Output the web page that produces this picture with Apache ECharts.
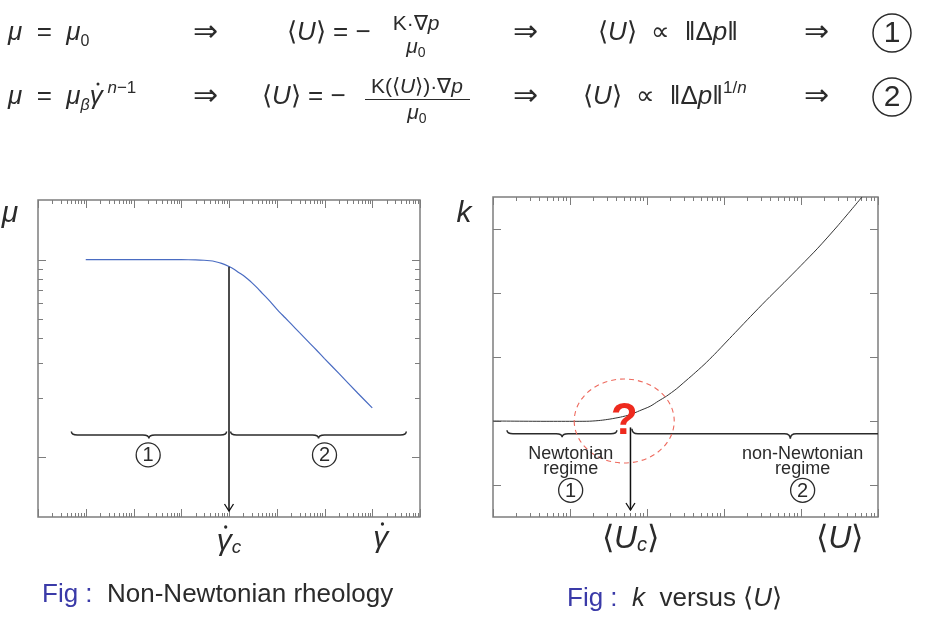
<!DOCTYPE html>
<html><head><meta charset="utf-8">
<script src="https://cdn.jsdelivr.net/npm/echarts@6/dist/echarts.min.js"></script>
<style>html,body{margin:0;padding:0;background:#fff}#c{width:930px;height:639px}</style>
</head><body><div id="c"></div>
<script>
// ---------- data ----------
// Left: viscosity mu versus shear rate (log-log)
const shearRate = [0.001, 0.01, 0.05, 0.1, 0.2, 0.3, 0.4, 0.5, 0.7, 1, 1.3, 1.6, 2, 2.5, 3, 4, 5, 7, 10, 15, 20, 30, 50, 70, 100, 200, 500, 1000];
const viscosity = [10, 10, 10, 9.99, 9.96, 9.92, 9.86, 9.78, 9.57, 9.22, 8.9, 8.6, 8.3, 7.95, 7.65, 7.15, 6.75, 6.2, 5.62, 5.08, 4.73, 4.27, 3.76, 3.46, 3.16, 2.66, 2.11, 1.78];
// Right: k versus <U> (semi-log)
const meanVelocity = [1, 5, 12, 18, 25, 33, 45, 61, 80, 110, 140, 180, 240, 300, 400, 550, 750, 1100, 1500, 2200, 3500, 6000, 10000, 16500, 30000, 62000];
const kValues = [1.0, 0.995, 0.995, 0.997, 1.01, 1.03, 1.06, 1.10, 1.16, 1.23, 1.31, 1.39, 1.50, 1.60, 1.73, 1.88, 2.04, 2.25, 2.42, 2.63, 2.88, 3.16, 3.43, 3.70, 4.05, 4.5];
const criticalShear = 1;      // gamma_dot_c
const criticalVelocity = 61;  // <U_c>
// axis ranges
const leftX = [1e-4, 1e4], leftY = [0.5, 20];
const rightX = [1, 1e5], rightY = [-0.5, 4.5];
const rightYTicks = [0, 1, 2, 3, 4];

const F = "'Liberation Sans', Arial, sans-serif";
const INK = '#2b2b2b';
const AXC = '#7d7d7d';

function logTicks(lo, hi) {
  const maj = [], min = [];
  for (let e = Math.round(Math.log10(lo)); e <= Math.round(Math.log10(hi)); e++) {
    const b = Math.pow(10, e);
    if (b >= lo * 0.999 && b <= hi * 1.001) maj.push(b);
    for (let m = 2; m <= 9; m++) { const v = m * b; if (v > lo * 1.001 && v < hi * 0.999) min.push(v); }
  }
  return { maj, min };
}

function tickRenderer(xr, yr, xt, yt) {
  return function (params, api) {
    const ch = [];
    const st = { stroke: AXC, lineWidth: 1 };
    const p00 = api.coord([xr[0], yr[0]]), p11 = api.coord([xr[1], yr[1]]);
    const L = p00[0], R = p11[0], B = p00[1], T = p11[1];
    function vt(x, len) {
      const px = Math.round(api.coord([x, yr[0]])[0]) + 0.5;
      ch.push({ type: 'line', shape: { x1: px, y1: B, x2: px, y2: B - len }, style: st });
      ch.push({ type: 'line', shape: { x1: px, y1: T, x2: px, y2: T + len }, style: st });
    }
    function ht(y, len) {
      const py = Math.round(api.coord([xr[0], y])[1]) + 0.5;
      ch.push({ type: 'line', shape: { x1: L, y1: py, x2: L + len, y2: py }, style: st });
      ch.push({ type: 'line', shape: { x1: R, y1: py, x2: R - len, y2: py }, style: st });
    }
    xt.maj.forEach(v => vt(v, 8));
    xt.min.forEach(v => vt(v, 4));
    yt.maj.forEach(v => ht(v, 8));
    (yt.min || []).forEach(v => ht(v, 5));
    return { type: 'group', children: ch };
  };
}

function bracePath(x1, x2, xm, y, h, q, xClip) {
  let d = `M${x1},${y - h} Q${x1},${y} ${x1 + q},${y} L${xm - q},${y} Q${xm},${y} ${xm},${y + h} Q${xm},${y} ${xm + q},${y}`;
  if (xClip !== undefined && x2 > xClip) d += ` L${xClip},${y}`;
  else d += ` L${x2 - q},${y} Q${x2},${y} ${x2},${y - h}`;
  return d;
}
function arrowEls(px, yTop, yTip) {
  return [
    { type: 'line', shape: { x1: px, y1: yTop, x2: px, y2: yTip }, style: { stroke: '#111', lineWidth: 1.5 } },
    { type: 'polyline', shape: { points: [[px - 4.5, yTip - 7], [px, yTip], [px + 4.5, yTip - 7]] }, style: { stroke: '#111', lineWidth: 1.3, fill: 'none' } }
  ];
}
function circledEls(cx, cy, r, t, fs) {
  return [
    { type: 'circle', shape: { cx, cy, r }, style: { stroke: INK, lineWidth: 1.3, fill: 'none' } },
    { type: 'text', style: { x: cx, y: cy + 1, text: t, font: `${fs}px ${F}`, fill: INK, align: 'center', verticalAlign: 'middle', textAlign: 'center', textVerticalAlign: 'middle' } }
  ];
}
function txt(x, y, text, fs, extra) {
  return { type: 'text', style: Object.assign({ x, y, text, font: `${fs}px ${F}`, fill: INK, align: 'center', verticalAlign: 'middle', textAlign: 'center', textVerticalAlign: 'middle' }, extra || {}) };
}
const mathRich = (fs) => ({
  m: { fontStyle: 'italic', fontSize: fs, fontFamily: F, fill: INK, color: INK },
  s: { fontStyle: 'italic', fontSize: Math.round(fs * 0.62), fontFamily: F, fill: INK, color: INK, verticalAlign: 'bottom' },
  n: { fontSize: fs, fontFamily: F, fill: INK, color: INK }
});
// gamma with a dot above (dot drawn as a small disc)
function gammaDot(x, y, fs, sub) {
  const els = [];
  els.push({ type: 'text', style: { x, y, text: sub ? '{m|γ}{s|' + sub + '}' : '{m|γ}', rich: mathRich(fs), align: 'center', verticalAlign: 'middle', textAlign: 'center', textVerticalAlign: 'middle' } });
  const gx = sub ? x - fs * 0.17 : x;
  els.push({ type: 'circle', shape: { cx: gx + fs * 0.06, cy: y - fs * 0.5, r: fs * 0.055 }, style: { fill: INK } });
  return els;
}

// annotation anchors (data coordinates)
const leftBraces = [[5e-4, 0.89, 0.021], [1.08, 5160, 75]];
const leftBraceY = 1.3;
const leftCircled = [[0.0203, 1.03, '1'], [100, 1.03, '2']];
const rightBraces = [[1.52, 40.6, 7.9], [63.7, 8.2e5, 7260]];
const rightBraceY = 0.80;

function renderLeftAnno(params, api) {
  const ch = [];
  const B = api.coord([leftX[0], leftY[0]])[1];
  leftBraces.forEach(b => {
    const y = api.coord([b[0], leftBraceY])[1];
    ch.push({ type: 'path', shape: { pathData: bracePath(api.coord([b[0], 1])[0], api.coord([b[1], 1])[0], api.coord([b[2], 1])[0], y, 3.5, 6) }, style: { stroke: INK, lineWidth: 1.5, fill: 'none' } });
  });
  leftCircled.forEach(c => { const p = api.coord([c[0], c[1]]); circledEls(p[0], p[1], 12, c[2], 20).forEach(e => ch.push(e)); });
  const a = api.coord([criticalShear, 9.2]);
  arrowEls(a[0], a[1], B - 6).forEach(e => ch.push(e));
  gammaDot(a[0], B + 25, 30, 'c').forEach(e => ch.push(e));
  const g = api.coord([1500, 1]);
  gammaDot(g[0], B + 22, 30).forEach(e => ch.push(e));
  return { type: 'group', children: ch };
}

function renderRightAnno(params, api) {
  const ch = [];
  const B = api.coord([rightX[0], rightY[0]])[1];
  const Rpx = api.coord([rightX[1], rightY[0]])[0];
  rightBraces.forEach((b, i) => {
    const y = api.coord([1, rightBraceY])[1];
    ch.push({ type: 'path', shape: { pathData: bracePath(api.coord([b[0], 1])[0], api.coord([b[1], 1])[0], api.coord([b[2], 1])[0], y, i ? 5 : 3.5, 6, Rpx) }, style: { stroke: INK, lineWidth: 1.5, fill: 'none' } });
  });
  const c = api.coord([50.6, 1.0]);
  const rx = 50, ry = 42;
  ch.push({ type: 'path', shape: { pathData: `M${c[0] - rx},${c[1]} A${rx},${ry} 0 1 0 ${c[0] + rx},${c[1]} A${rx},${ry} 0 1 0 ${c[0] - rx},${c[1]} Z` }, style: { stroke: '#ee6a5e', lineWidth: 1.1, fill: 'none', lineDash: [5, 4] } });
  ch.push(txt(c[0], c[1] + 1, '?', 44, { fill: '#ee2a1e', font: `bold 44px ${F}` }));
  const a = api.coord([criticalVelocity, 0.9]);
  arrowEls(a[0], a[1], B - 7).forEach(e => ch.push(e));
  const nl = api.coord([10.2, 0.49]), nl2 = api.coord([10.2, 0.245]), nl3 = api.coord([10.2, -0.083]);
  ch.push(txt(nl[0], nl[1], 'Newtonian', 18));
  ch.push(txt(nl2[0], nl2[1], 'regime', 18));
  circledEls(nl3[0], nl3[1], 12, '1', 20).forEach(e => ch.push(e));
  const rl = api.coord([10500, 0.49]), rl2 = api.coord([10500, 0.245]), rl3 = api.coord([10500, -0.083]);
  ch.push(txt(rl[0], rl[1], 'non-Newtonian', 18));
  ch.push(txt(rl2[0], rl2[1], 'regime', 18));
  circledEls(rl3[0], rl3[1], 12, '2', 20).forEach(e => ch.push(e));
  ch.push({ type: 'text', style: { x: a[0], y: B + 22, text: '{n|⟨}{m|U}{s|c}{n|⟩}', rich: mathRich(32), align: 'center', verticalAlign: 'middle', textAlign: 'center', textVerticalAlign: 'middle' } });
  const u = api.coord([32000, 1]);
  ch.push({ type: 'text', style: { x: u[0], y: B + 22, text: '{n|⟨}{m|U}{n|⟩}', rich: mathRich(32), align: 'center', verticalAlign: 'middle', textAlign: 'center', textVerticalAlign: 'middle' } });
  return { type: 'group', children: ch };
}

// ---------- equations (graphic text) ----------
const EQ = 26, FR = 21;
const eqRich = {
  m: { fontStyle: 'italic', fontSize: EQ, fontFamily: F, fill: INK, color: INK, lineHeight: 34 },
  n: { fontSize: EQ, fontFamily: F, fill: INK, color: INK, lineHeight: 34 },
  a: { fontSize: 30, fontFamily: F, fill: INK, color: INK, lineHeight: 34 },
  s: { fontSize: 16, fontFamily: F, fill: INK, color: INK, verticalAlign: 'bottom', lineHeight: 34 },
  si: { fontStyle: 'italic', fontSize: 16, fontFamily: F, fill: INK, color: INK, verticalAlign: 'bottom', lineHeight: 34 },
  u: { fontSize: 17, fontFamily: F, fill: INK, color: INK, verticalAlign: 'top', lineHeight: 34 },
  ui: { fontStyle: 'italic', fontSize: 17, fontFamily: F, fill: INK, color: INK, verticalAlign: 'top', lineHeight: 34 },
  f: { fontSize: FR, fontFamily: F, fill: INK, color: INK, lineHeight: 26 },
  fi: { fontStyle: 'italic', fontSize: FR, fontFamily: F, fill: INK, color: INK, lineHeight: 26 },
  fs: { fontSize: 14, fontFamily: F, fill: INK, color: INK, verticalAlign: 'bottom', lineHeight: 26 }
};
function gText(x, y, text, align) {
  return { type: 'text', x, y, silent: true, style: { text, rich: eqRich, fill: INK, font: `${EQ}px ${F}`, align: align || 'left', verticalAlign: 'middle', textAlign: align || 'left', textVerticalAlign: 'middle' } };
}
function gCircled(cx, cy, t) {
  return [
    { type: 'circle', shape: { cx, cy, r: 19 }, style: { stroke: INK, lineWidth: 1.5, fill: 'none' } },
    { type: 'text', x: cx, y: cy + 1, style: { text: t, font: `30px ${F}`, fill: INK, align: 'center', verticalAlign: 'middle', textAlign: 'center', textVerticalAlign: 'middle' } }
  ];
}
const graphics = [
  // row 1
  gText(8, 33, '{m|μ}{n|  =  }{m|μ}{s|0}'),
  gText(205, 33, '{a|⇒}', 'center'),
  gText(287, 33, '{n|⟨}{m|U}{n|⟩ = − }'),
  gText(416, 24, '{f|K·∇}{fi|p}', 'center'),
  gText(416, 47, '{fi|μ}{fs|0}', 'center'),
  gText(525, 33, '{a|⇒}', 'center'),
  gText(598, 33, '{n|⟨}{m|U}{n|⟩  ∝  ‖Δ}{m|p}{n|‖}'),
  gText(816, 33, '{a|⇒}', 'center'),
  ...gCircled(892, 33, '1'),
  // row 2
  gText(8, 97, '{m|μ}{n|  =  }{m|μ}{si|β}{m|γ}{ui| n}{u|−1}'),
  { type: 'circle', shape: { cx: 98, cy: 84, r: 1.5 }, style: { fill: INK } },
  gText(205, 97, '{a|⇒}', 'center'),
  gText(262, 97, '{n|⟨}{m|U}{n|⟩ = − }'),
  gText(417, 87, '{f|K(⟨}{fi|U}{f|⟩)·∇}{fi|p}', 'center'),
  { type: 'line', shape: { x1: 365, y1: 99.5, x2: 470, y2: 99.5 }, style: { stroke: INK, lineWidth: 1 } },
  gText(417, 113, '{fi|μ}{fs|0}', 'center'),
  gText(525, 97, '{a|⇒}', 'center'),
  gText(583, 97, '{n|⟨}{m|U}{n|⟩  ∝  ‖Δ}{m|p}{n|‖}{u|1/}{ui|n}'),
  gText(816, 97, '{a|⇒}', 'center'),
  ...gCircled(892, 97, '2'),
  // axis name labels
  { type: 'text', x: 10, y: 214, style: { text: 'μ', font: `italic 30px ${F}`, fill: INK, align: 'center', verticalAlign: 'middle', textAlign: 'center', textVerticalAlign: 'middle' } },
  { type: 'text', x: 464, y: 214, style: { text: 'k', font: `italic 30px ${F}`, fill: INK, align: 'center', verticalAlign: 'middle', textAlign: 'center', textVerticalAlign: 'middle' } },
  // captions
  { type: 'text', x: 42, y: 595, style: { text: '{b|Fig : }{t| Non-Newtonian rheology}', rich: { b: { fontSize: 26, fontFamily: F, fill: '#3a3aa8', color: '#3a3aa8' }, t: { fontSize: 26, fontFamily: F, fill: INK, color: INK } }, align: 'left', verticalAlign: 'middle', textAlign: 'left', textVerticalAlign: 'middle' } },
  { type: 'text', x: 567, y: 599, style: { text: '{b|Fig : }{i| k }{t| versus ⟨}{i|U}{t|⟩}', rich: { b: { fontSize: 26, fontFamily: F, fill: '#3a3aa8', color: '#3a3aa8' }, t: { fontSize: 26, fontFamily: F, fill: INK, color: INK }, i: { fontSize: 26, fontStyle: 'italic', fontFamily: F, fill: INK, color: INK } }, align: 'left', verticalAlign: 'middle', textAlign: 'left', textVerticalAlign: 'middle' } }
];

const hiddenAxis = { axisLine: { show: false }, axisTick: { show: false }, axisLabel: { show: false }, splitLine: { show: false } };
const gridBox = { show: true, borderColor: AXC, borderWidth: 1.5, backgroundColor: 'rgba(0,0,0,0)' };

const chart = echarts.init(document.getElementById('c'), null, { renderer: 'canvas' });
chart.setOption({
  animation: false,
  backgroundColor: '#fff',
  grid: [
    Object.assign({ left: 38, top: 200, width: 382, height: 317 }, gridBox),
    Object.assign({ left: 493, top: 197, width: 385, height: 320 }, gridBox)
  ],
  xAxis: [
    Object.assign({ type: 'log', logBase: 10, gridIndex: 0, min: leftX[0], max: leftX[1] }, hiddenAxis),
    Object.assign({ type: 'log', logBase: 10, gridIndex: 1, min: rightX[0], max: rightX[1] }, hiddenAxis)
  ],
  yAxis: [
    Object.assign({ type: 'log', logBase: 10, gridIndex: 0, min: leftY[0], max: leftY[1] }, hiddenAxis),
    Object.assign({ type: 'value', gridIndex: 1, min: rightY[0], max: rightY[1], interval: 1 }, hiddenAxis)
  ],
  series: [
    { type: 'custom', xAxisIndex: 0, yAxisIndex: 0, data: [[1, 1]], silent: true,
      renderItem: tickRenderer(leftX, leftY, logTicks(leftX[0], leftX[1]), logTicks(leftY[0], leftY[1])) },
    { type: 'custom', xAxisIndex: 1, yAxisIndex: 1, data: [[1, 1]], silent: true,
      renderItem: tickRenderer(rightX, rightY, logTicks(rightX[0], rightX[1]), { maj: rightYTicks, min: [] }) },
    { type: 'line', xAxisIndex: 0, yAxisIndex: 0, data: shearRate.map((x, i) => [x, viscosity[i]]),
      showSymbol: false, symbol: 'none', smooth: 0.25, lineStyle: { color: '#4a6cc2', width: 1.2 }, silent: true },
    { type: 'line', xAxisIndex: 1, yAxisIndex: 1, data: meanVelocity.map((x, i) => [x, kValues[i]]),
      showSymbol: false, symbol: 'none', smooth: 0.25, lineStyle: { color: '#333', width: 1 }, silent: true },
    { type: 'custom', xAxisIndex: 0, yAxisIndex: 0, data: [[1, 1]], silent: true, z: 5, renderItem: renderLeftAnno },
    { type: 'custom', xAxisIndex: 1, yAxisIndex: 1, data: [[1, 1]], silent: true, z: 5, renderItem: renderRightAnno }
  ],
  graphic: graphics
});
</script>
</body></html>
